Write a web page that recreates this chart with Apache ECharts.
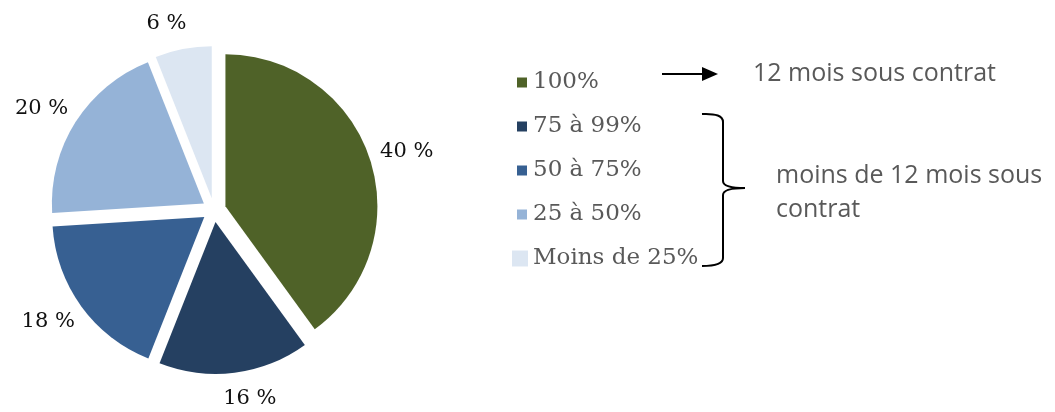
<!DOCTYPE html>
<html>
<head>
<meta charset="utf-8">
<script src="https://cdn.jsdelivr.net/npm/echarts@6/dist/echarts.min.js"></script>
<style>
  html, body { margin: 0; padding: 0; background: #fff; }
  #chart { width: 1055px; height: 412px; }
</style>
</head>
<body>
<div id="chart"></div>
<script>
  // data
  var categories = ['100%', '75 à 99%', '50 à 75%', '25 à 50%', 'Moins de 25%'];
  var shares = [40, 16, 18, 20, 6];
  var colors = ['#4F6228', '#254061', '#376092', '#95B3D7', '#DCE6F2'];

  // small square inside a 16px box, the last legend entry uses a full box
  var smallSquare = 'path://M0,0M16,16M5,3h10v10h-10z';

  var myChart = echarts.init(document.getElementById('chart'));

  var pieData = categories.map(function (name, i) {
    return {
      name: name,
      value: shares[i],
      selected: true,
      itemStyle: { color: colors[i] }
    };
  });

  var legendData = categories.map(function (name, i) {
    return { name: name, icon: i < categories.length - 1 ? smallSquare : 'rect' };
  });

  var ink = { stroke: '#000', lineWidth: 2, fill: 'none' };

  myChart.setOption({
    animation: false,
    backgroundColor: '#fff',
    legend: {
      orient: 'vertical',
      left: 507,
      top: 66,
      itemWidth: 16,
      itemHeight: 16,
      itemGap: 21,
      selectedMode: false,
      textStyle: {
        fontFamily: 'DejaVu Serif',
        fontSize: 23,
        color: '#595959'
      },
      data: legendData
    },
    series: [
      {
        type: 'pie',
        center: [214, 210],
        radius: 152,
        startAngle: 90,
        clockwise: true,
        selectedMode: 'multiple',
        selectedOffset: 12,
        avoidLabelOverlap: false,
        emphasis: { disabled: true },
        label: {
          position: 'outside',
          formatter: '{c} %',
          fontFamily: 'DejaVu Serif',
          fontSize: 21,
          color: '#111'
        },
        labelLine: { show: false, length: 26, length2: 7 },
        labelLayout: { align: 'center' },
        data: pieData
      }
    ],
    graphic: [
      // arrow to "12 mois sous contrat"
      { type: 'line', shape: { x1: 662, y1: 74, x2: 704, y2: 74 }, style: ink },
      {
        type: 'polygon',
        shape: { points: [[702, 67], [718, 74], [702, 81]] },
        style: { fill: '#000' }
      },
      {
        type: 'text',
        style: {
          x: 753, y: 74,
          text: '12 mois sous contrat',
          font: '25px "Open Sans"',
          fill: '#595959',
          verticalAlign: 'middle'
        }
      },
      // brace for the other categories
      { type: 'bezierCurve', shape: { x1: 702, y1: 114, cpx1: 723, cpy1: 113, x2: 723, y2: 122 }, style: ink },
      { type: 'line', shape: { x1: 723, y1: 122, x2: 723, y2: 181 }, style: ink },
      { type: 'bezierCurve', shape: { x1: 723, y1: 181, cpx1: 723, cpy1: 188, x2: 745, y2: 188 }, style: ink },
      { type: 'bezierCurve', shape: { x1: 745, y1: 188, cpx1: 723, cpy1: 188, x2: 723, y2: 195 }, style: ink },
      { type: 'line', shape: { x1: 723, y1: 195, x2: 723, y2: 258 }, style: ink },
      { type: 'bezierCurve', shape: { x1: 723, y1: 258, cpx1: 723, cpy1: 266, x2: 702, y2: 266 }, style: ink },
      {
        type: 'text',
        style: {
          x: 776, y: 159,
          text: 'moins de 12 mois sous\ncontrat',
          font: '25px "Open Sans"',
          lineHeight: 34,
          fill: '#595959',
          verticalAlign: 'top'
        }
      }
    ]
  });
</script>
</body>
</html>
